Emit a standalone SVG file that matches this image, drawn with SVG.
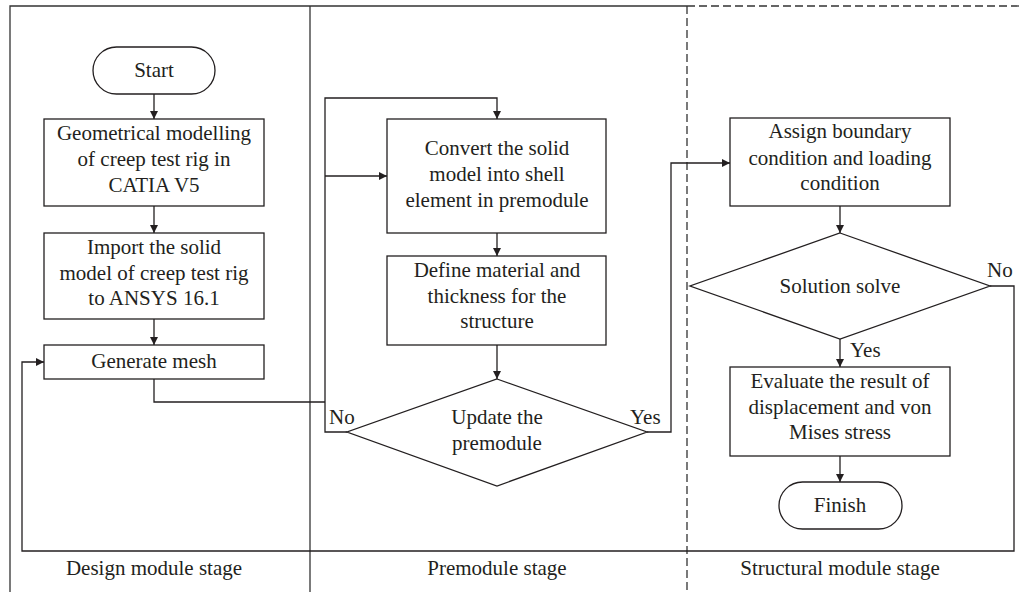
<svg xmlns="http://www.w3.org/2000/svg" width="1020" height="592" viewBox="0 0 1020 592">
<style>
.frame{fill:none;stroke:#333;stroke-width:1.3}
.dash{stroke-dasharray:8,4}
.node{fill:#fff;stroke:#231f20;stroke-width:1.3}
.conn{fill:none;stroke:#231f20;stroke-width:1.3}
text{font-family:"Liberation Serif","Times New Roman",serif;font-size:21px;fill:#231f20;text-anchor:middle}
.lbl{text-anchor:start}
</style>
<defs>
<marker id="arr" viewBox="0 0 10 10" refX="10" refY="5" markerWidth="8" markerHeight="8" markerUnits="userSpaceOnUse" orient="auto">
<path d="M0,0 L10,5 L0,10 z" fill="#231f20"/>
</marker>
</defs>
<g id="frame">
<path class="frame" d="M10,592 V6 H687"/>
<path class="frame dash" d="M687,6 H1020"/>
<path class="frame" d="M310,6 V592"/>
<path class="frame dash" d="M687,6 V592"/>
<text x="154" y="575">Design module stage</text>
<text x="497" y="575">Premodule stage</text>
<text x="840" y="575">Structural module stage</text>
</g>
<g id="connectors">
<path class="conn" d="M154,94 V119" marker-end="url(#arr)"/>
<path class="conn" d="M154,206 V233" marker-end="url(#arr)"/>
<path class="conn" d="M154,319 V345" marker-end="url(#arr)"/>
<path class="conn" d="M154,379 V402 H325"/>
<path class="conn" d="M347,432 H325 V98 H497 V119" marker-end="url(#arr)"/>
<path class="conn" d="M325,176 H387" marker-end="url(#arr)"/>
<path class="conn" d="M497,233 V256" marker-end="url(#arr)"/>
<path class="conn" d="M497,345 V379" marker-end="url(#arr)"/>
<path class="conn" d="M647,432 H671 V163 H730" marker-end="url(#arr)"/>
<path class="conn" d="M840,206 V233" marker-end="url(#arr)"/>
<path class="conn" d="M840,339 V367" marker-end="url(#arr)"/>
<path class="conn" d="M840,456 V482" marker-end="url(#arr)"/>
<path class="conn" d="M990,286 H1014 V551 H22 V362 H44" marker-end="url(#arr)"/>
<text class="lbl" x="329" y="424">No</text>
<text class="lbl" x="630" y="424">Yes</text>
<text class="lbl" x="987" y="277">No</text>
<text class="lbl" x="850" y="357">Yes</text>
</g>
<g id="start">
<rect class="node" x="93" y="47" width="122" height="47" rx="23.5"/>
<text x="154" y="77">Start</text>
</g>
<g id="geom">
<rect class="node" x="44" y="119" width="220" height="87"/>
<text x="154" y="140">Geometrical modelling</text>
<text x="154" y="166">of creep test rig in</text>
<text x="154" y="192">CATIA V5</text>
</g>
<g id="import">
<rect class="node" x="44" y="233" width="220" height="86"/>
<text x="154" y="254">Import the solid</text>
<text x="154" y="280">model of creep test rig</text>
<text x="154" y="305">to ANSYS 16.1</text>
</g>
<g id="mesh">
<rect class="node" x="44" y="345" width="220" height="34"/>
<text x="154" y="368">Generate mesh</text>
</g>
<g id="convert">
<rect class="node" x="387" y="119" width="219" height="114"/>
<text x="497" y="155">Convert the solid</text>
<text x="497" y="181">model into shell</text>
<text x="497" y="207">element in premodule</text>
</g>
<g id="define">
<rect class="node" x="387" y="256" width="219" height="89"/>
<text x="497" y="277">Define material and</text>
<text x="497" y="303">thickness for the</text>
<text x="497" y="328">structure</text>
</g>
<g id="update">
<polygon class="node" points="497,379 647,432 497,486 347,432"/>
<text x="497" y="424">Update the</text>
<text x="497" y="450">premodule</text>
</g>
<g id="assign">
<rect class="node" x="730" y="118" width="220" height="88"/>
<text x="840" y="138">Assign boundary</text>
<text x="840" y="165">condition and loading</text>
<text x="840" y="190">condition</text>
</g>
<g id="solve">
<polygon class="node" points="840,233 990,286 840,339 690,286"/>
<text x="840" y="293">Solution solve</text>
</g>
<g id="evaluate">
<rect class="node" x="730" y="367" width="220" height="89"/>
<text x="840" y="388">Evaluate the result of</text>
<text x="840" y="414">displacement and von</text>
<text x="840" y="439">Mises stress</text>
</g>
<g id="finish">
<rect class="node" x="779" y="482" width="123" height="47" rx="23.5"/>
<text x="840" y="512">Finish</text>
</g>
</svg>
